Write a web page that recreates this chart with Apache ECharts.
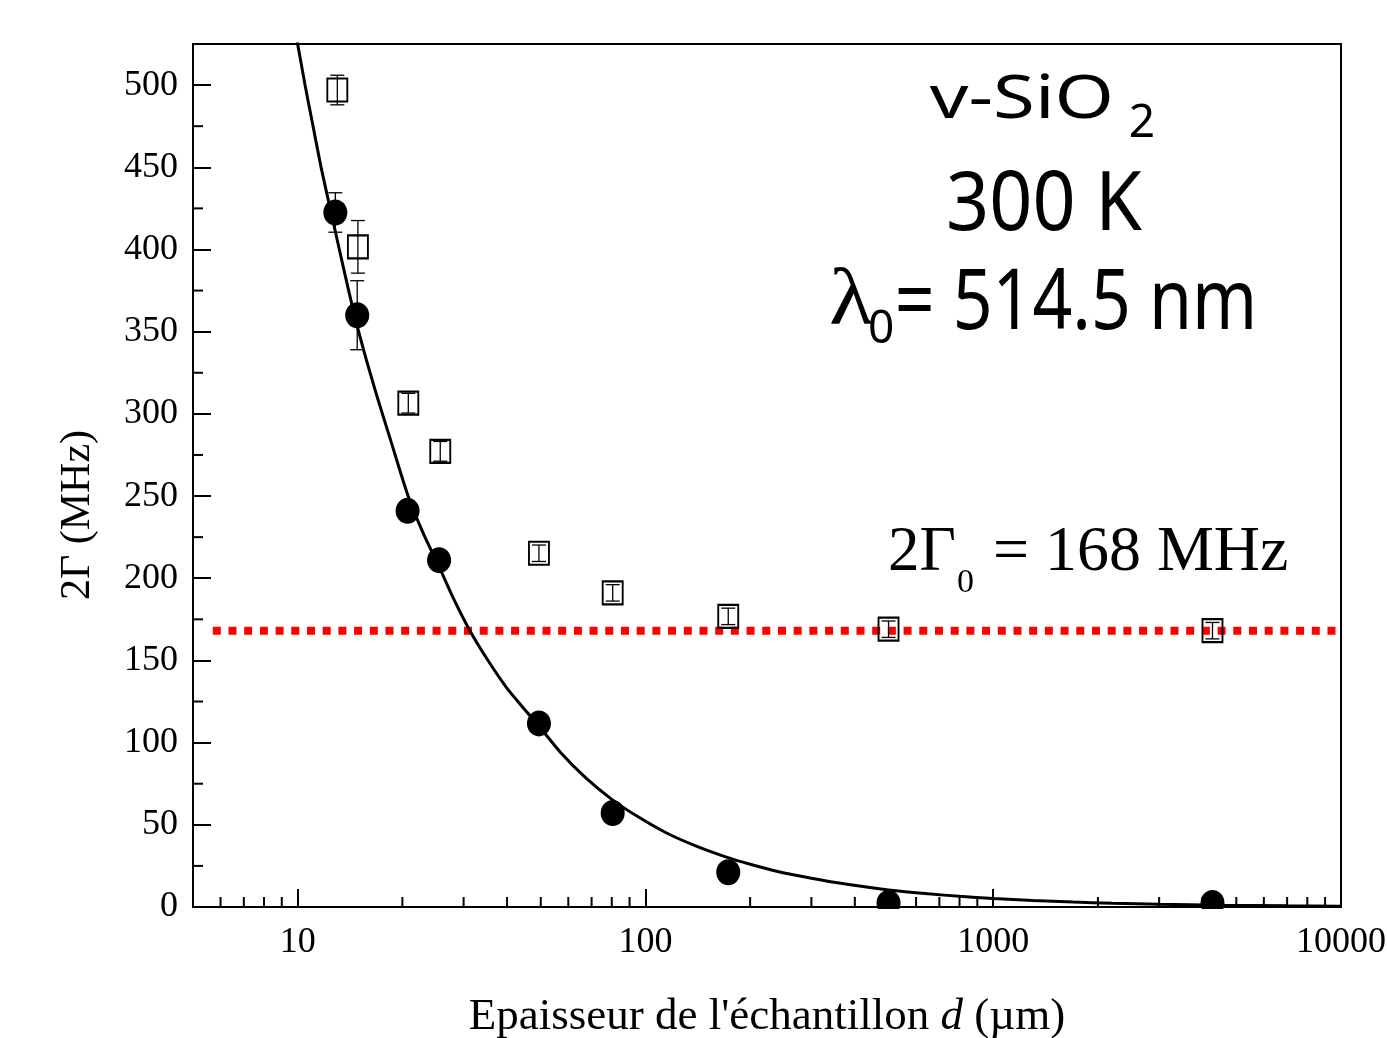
<!DOCTYPE html>
<html>
<head>
<meta charset="utf-8">
<script src="https://cdn.jsdelivr.net/npm/echarts@6/dist/echarts.min.js"></script>
<style>
html, body { margin: 0; padding: 0; background: #fff; }
#main { width: 1387px; height: 1038px; }
</style>
</head>
<body>
<div id="main"></div>
<script>
// filled circles (corrected width)
var circleX = [12.83, 14.83, 20.7, 25.5, 49.4, 80.5, 173, 500, 4270];
var circleY = [422.5, 360, 241, 211, 111.7, 57.2, 21.1, 2.5, 2.5];
var circleErr = [12, 21, 0, 0, 0, 0, 0, 0, 0];

// open squares (measured width)
var squareX = [13.0, 14.9, 20.8, 25.7, 49.4, 80.5, 173, 500, 4270];
var squareY = [497, 401.6, 306.5, 277.2, 215.2, 191.1, 176.8, 169, 168.1];
var squareErr = [9, 16, 6, 6, 5, 5, 5, 5, 5];

// fitted curve, points
var fitX = [9.9, 10.5, 11, 11.7, 12.46, 13.5, 14.56, 15.7, 17, 18.5, 20.7, 23, 25.5, 28, 31.1, 35, 40, 45, 49.4,
            57, 67, 80, 95, 115, 140, 170, 200, 240, 300, 380, 500, 650, 800, 1000, 1300, 1700, 2200, 3000,
            4500, 7000, 10000];
var fitY = [530, 500, 478, 449, 423, 390, 360, 334, 309, 284, 251, 227, 207, 188, 169, 151, 133, 120, 110,
            94, 79, 65.5, 55, 45, 37, 30.5, 26, 21.6, 17.5, 13.8, 10.4, 8, 6.5, 5.2, 4, 3, 2.3, 1.6,
            1.1, 0.7, 0.5];

// 2Γ0 reference level
var gamma0 = 168;
var gamma0X = [5.7, 10000];

var yMinorTicks = [25, 75, 125, 175, 225, 275, 325, 375, 425, 475];
var xMinorTicks = [6, 7, 8, 9, 20, 30, 40, 50, 60, 70, 80, 90, 200, 300, 400, 500, 600, 700, 800, 900,
                   2000, 3000, 4000, 5000, 6000, 7000, 8000, 9000];

var serif = '"Liberation Serif", "Times New Roman", serif';
var sans = '"Noto Sans", "DejaVu Sans", sans-serif';

function pairs(xs, ys) {
    var out = [];
    for (var i = 0; i < xs.length; i++) out.push([xs[i], ys[i]]);
    return out;
}
function errData(xs, ys, es) {
    var out = [];
    for (var i = 0; i < xs.length; i++) {
        if (es[i] > 0) out.push([xs[i], ys[i], es[i]]);
    }
    return out;
}

function renderErr(params, api) {
    var x = api.value(0), y = api.value(1), e = api.value(2);
    var top = api.coord([x, y + e]);
    var bot = api.coord([x, y - e]);
    var h = 7;
    var st = { stroke: '#000', lineWidth: 1.3 };
    return {
        type: 'group',
        children: [
            { type: 'line', shape: { x1: top[0], y1: top[1], x2: bot[0], y2: bot[1] }, style: st },
            { type: 'line', shape: { x1: top[0] - h, y1: top[1], x2: top[0] + h, y2: top[1] }, style: st },
            { type: 'line', shape: { x1: bot[0] - h, y1: bot[1], x2: bot[0] + h, y2: bot[1] }, style: st }
        ]
    };
}

function renderXMinor(params, api) {
    var p = api.coord([api.value(0), 0]);
    return { type: 'line', shape: { x1: p[0], y1: p[1], x2: p[0], y2: p[1] - 10 },
             style: { stroke: '#000', lineWidth: 2 } };
}
function renderYMinor(params, api) {
    var p = api.coord([5, api.value(1)]);
    return { type: 'line', shape: { x1: p[0], y1: p[1], x2: p[0] + 10, y2: p[1] },
             style: { stroke: '#000', lineWidth: 2 } };
}

function txt(x, y, s, font, scaleX, align) {
    align = align || 'center';
    return {
        type: 'text', x: x, y: y, scaleX: scaleX || 1, z: 100,
        style: { text: s, font: font, fill: '#000',
                 align: align, verticalAlign: 'middle',
                 textAlign: align, textVerticalAlign: 'middle' }
    };
}

var myChart = echarts.init(document.getElementById('main'));
var option = {
    backgroundColor: '#fff',
    animation: false,
    grid: {
        left: 193, right: 46, top: 44, bottom: 131,
        show: true, borderColor: '#000', borderWidth: 2,
        outerBoundsMode: 'none'
    },
    xAxis: {
        type: 'log', logBase: 10, min: 5, max: 10000,
        name: "Epaisseur de l'échantillon {it|d} (µm)",
        nameLocation: 'middle', nameGap: 88,
        nameTextStyle: {
            fontFamily: serif, fontSize: 45, color: '#000',
            rich: { it: { fontFamily: serif, fontSize: 45, fontStyle: 'italic', color: '#000' } }
        },
        axisLine: { lineStyle: { color: '#000', width: 2 } },
        axisTick: { inside: true, length: 18, lineStyle: { color: '#000', width: 2 } },
        axisLabel: {
            fontFamily: serif, fontSize: 36, color: '#000', margin: 18,
            formatter: function (v) {
                var l = Math.log(v) / Math.LN10;
                return Math.abs(l - Math.round(l)) < 1e-6 ? String(Math.round(v)) : '';
            }
        },
        splitLine: { show: false }
    },
    yAxis: {
        type: 'value', min: 0, max: 525, interval: 50,
        axisLine: { lineStyle: { color: '#000', width: 2 } },
        axisTick: { inside: true, length: 18, lineStyle: { color: '#000', width: 2 } },
        axisLabel: {
            fontFamily: serif, fontSize: 36, color: '#000', margin: 15,
            formatter: function (v) { return v % 50 === 0 ? String(v) : ''; }
        },
        splitLine: { show: false }
    },
    graphic: [
        { type: 'rect', z: 50, shape: { x: 194, y: 909, width: 1146, height: 12 }, style: { fill: '#fff' } },
        // y axis title, centred lower than the grid middle as in the original
        {
            type: 'text', x: 78, y: 515, rotation: Math.PI / 2, z: 100,
            style: { text: '2Γ (MHz)', font: '42px ' + serif, fill: '#000',
                     align: 'center', verticalAlign: 'middle',
                     textAlign: 'center', textVerticalAlign: 'middle' }
        },
        txt(1022, 101, 'v-SiO', '60px ' + sans, 1.27),
        txt(1142, 124, '2', '46px ' + sans, 1),
        txt(1044, 207, '300 K', '82px ' + sans, 0.92),
        txt(829, 303, 'λ', '80px ' + serif, 1.15, 'left'),
        txt(868, 330, '0', '46px ' + sans, 1, 'left'),
        txt(1076, 305, '= 514.5 nm', '84px ' + sans, 0.83),
        txt(888, 553, '2Γ', '63px ' + serif, 1, 'left'),
        txt(957, 583, '0', '34px ' + serif, 1, 'left'),
        txt(993, 553, '= 168 MHz', '63px ' + serif, 1.015, 'left')
    ],
    series: [
        {
            name: '2Γ0',
            type: 'line',
            data: pairs(gamma0X, [gamma0, gamma0]),
            symbol: 'none',
            z: 1,
            lineStyle: { color: '#ff0000', width: 8, type: [8, 7.7], cap: 'butt' }
        },
        {
            name: 'fit',
            type: 'line',
            data: pairs(fitX, fitY),
            smooth: 0.2,
            symbol: 'none',
            z: 3,
            lineStyle: { color: '#000', width: 3 }
        },
        {
            name: 'squares err',
            type: 'custom',
            renderItem: renderErr,
            data: errData(squareX, squareY, squareErr),
            z: 4
        },
        {
            name: 'circles err',
            type: 'custom',
            renderItem: renderErr,
            data: errData(circleX, circleY, circleErr),
            z: 4
        },
        {
            name: 'squares',
            type: 'scatter',
            data: pairs(squareX, squareY),
            symbol: 'rect',
            symbolSize: [20, 23],
            z: 5,
            itemStyle: { color: 'rgba(0,0,0,0)', borderColor: '#000', borderWidth: 2, opacity: 1 }
        },
        {
            name: 'circles',
            type: 'scatter',
            data: pairs(circleX, circleY),
            symbol: 'circle',
            symbolSize: [24, 26],
            z: 5,
            itemStyle: { color: '#000', opacity: 1 }
        },
        {
            name: 'x minor',
            type: 'custom',
            renderItem: renderXMinor,
            data: xMinorTicks.map(function (v) { return [v, 0]; }),
            z: 6
        },
        {
            name: 'y minor',
            type: 'custom',
            renderItem: renderYMinor,
            data: yMinorTicks.map(function (v) { return [5, v]; }),
            z: 6
        }
    ]
};
myChart.setOption(option);
</script>
</body>
</html>
